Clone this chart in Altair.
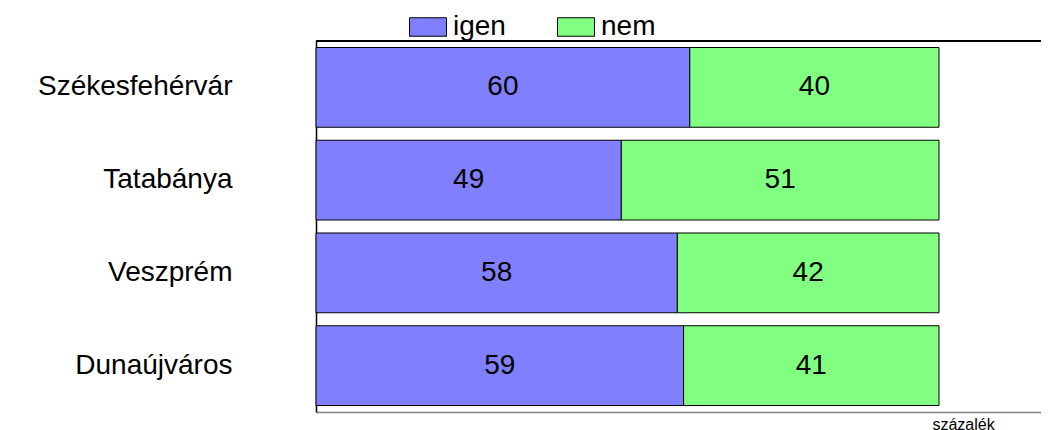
import altair as alt
import pandas as pd

cities = ["Székesfehérvár", "Tatabánya", "Veszprém", "Dunaújváros"]
igen = [60, 49, 58, 59]
nem = [40, 51, 42, 41]
series = ["igen", "nem"]
colors = ["#8080FF", "#80FF80"]

rows = []
for c, a, b in zip(cities, igen, nem):
    start = 0
    for s, v in zip(series, [a, b]):
        rows.append({"varos": c, "valasz": s, "ertek": v, "x0": start, "x1": start + v,
                     "mid": start + v / 2, "ord": series.index(s)})
        start += v
df = pd.DataFrame(rows)

FONT = "Liberation Sans"
W, H = 725, 371
XMAX = 100 * W / 623

yenc = alt.Y("varos:N", sort=cities,
             scale=alt.Scale(paddingInner=0.14, paddingOuter=0.07),
             axis=alt.Axis(title=None, ticks=False, domain=True, domainColor="black",
                           domainWidth=1.5, labelFontSize=28, labelFont=FONT,
                           labelColor="black", labelAlign="right", labelPadding=84,
                           labelLimit=0, grid=False))

xscale = alt.Scale(domain=[0, XMAX], nice=False, zero=True)

bars = alt.Chart(df).mark_bar(stroke="black", strokeWidth=1, opacity=1).encode(
    y=yenc,
    x=alt.X("x0:Q", scale=xscale,
            axis=alt.Axis(title="százalék", labels=False, ticks=False, grid=False,
                          domainColor="#808080", domainWidth=1.5,
                          titleFont=FONT, titleFontSize=16, titleFontWeight="normal",
                          titleColor="black", titleX=647, titleY=4,
                          titleAlign="center", titleBaseline="top")),
    x2="x1:Q",
    color=alt.Color("valasz:N", scale=alt.Scale(domain=series, range=colors),
                    legend=alt.Legend(orient="none", legendX=93, legendY=-33,
                                      direction="horizontal", title=None,
                                      symbolType="M-1,-0.5h2v1h-2z", symbolSize=1369,
                                      symbolStrokeColor="black", symbolStrokeWidth=1,
                                      symbolOpacity=1,
                                      labelFont=FONT, labelFontSize=28, labelColor="black",
                                      labelOffset=6, columnPadding=49, padding=0)),
)

labels = alt.Chart(df).mark_text(font=FONT, fontSize=28, color="black",
                                 align="center", baseline="middle").encode(
    y=alt.Y("varos:N", sort=cities),
    x=alt.X("mid:Q", scale=xscale),
    text=alt.Text("ertek:Q"),
)

top_line = alt.Chart(df).mark_rule(color="black", strokeWidth=1.2).encode(
    x=alt.value(0), x2=alt.value(W), y=alt.value(0)
)

chart = alt.layer(bars, labels, top_line).properties(
    width=W, height=H,
    autosize=alt.AutoSizeParams(type="none"),
    padding={"left": 308, "top": 33, "right": 0, "bottom": 26},
).configure_view(stroke=None).configure(background="white")

chart.save("out.html", embed_options={"renderer": "svg", "actions": False})
